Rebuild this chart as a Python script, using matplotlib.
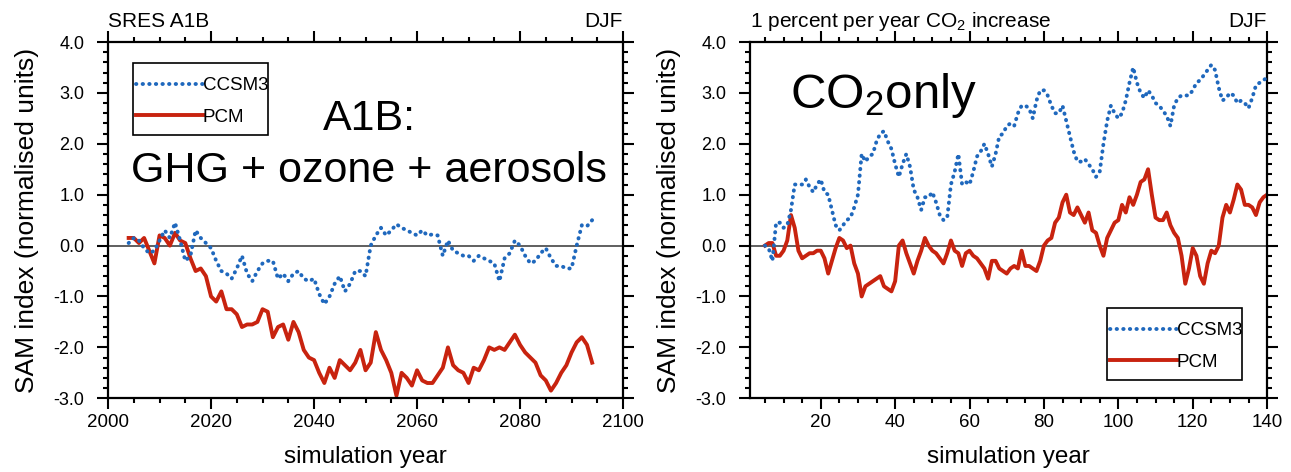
import numpy as np
import matplotlib
matplotlib.use("Agg")
import matplotlib.pyplot as plt
from matplotlib.patches import Rectangle
from matplotlib.ticker import MultipleLocator, FormatStrFormatter

plt.rcParams['font.family'] = ['Liberation Sans', 'DejaVu Sans']
plt.rcParams['mathtext.default'] = 'regular'
plt.rcParams['axes.unicode_minus'] = False

# ---------- data: SRES A1B (left) ----------
a1b_years = np.arange(2004, 2095)
a1b_ccsm3 = [0.05, 0.15, 0.1, -0.05, -0.15, -0.1, 0.1, 0.3, 0.15, 0.45,
             0.1, -0.3, -0.2, 0.3, 0.15, 0.05, -0.05, -0.3, -0.5, -0.55,
             -0.65, -0.45, -0.2, -0.55, -0.7, -0.5, -0.35, -0.3, -0.3, -0.65,
             -0.55, -0.7, -0.55, -0.5, -0.65, -0.7, -0.65, -0.95, -1.15, -1.0,
             -0.75, -0.6, -0.9, -0.75, -0.5, -0.5, -0.6, 0.0, 0.2, 0.35,
             0.2, 0.3, 0.42, 0.35, 0.3, 0.25, 0.2, 0.3, 0.2, 0.22,
             0.2, -0.2, 0.1, -0.1, -0.15, -0.2, -0.2, -0.3, -0.2, -0.25,
             -0.3, -0.35, -0.7, -0.25, -0.15, 0.1, 0.0, -0.2, -0.35, -0.3,
             -0.15, -0.05, -0.25, -0.4, -0.4, -0.45, -0.45, 0.0, 0.4, 0.38,
             0.5]
a1b_pcm = [0.15, 0.15, 0.05, 0.15, -0.1, -0.35, 0.2, 0.15, 0.0, 0.25,
           0.1, 0.05, -0.25, -0.5, -0.45, -0.6, -1.0, -1.1, -0.9, -1.25,
           -1.25, -1.35, -1.6, -1.55, -1.55, -1.5, -1.25, -1.3, -1.8, -1.6,
           -1.55, -1.85, -1.5, -1.7, -2.05, -2.2, -2.25, -2.5, -2.7, -2.4,
           -2.6, -2.25, -2.35, -2.45, -2.3, -2.05, -2.45, -2.3, -1.7, -2.05,
           -2.25, -2.5, -2.95, -2.5, -2.6, -2.75, -2.45, -2.65, -2.7, -2.7,
           -2.55, -2.4, -2.0, -2.35, -2.45, -2.5, -2.7, -2.4, -2.45, -2.25,
           -2.0, -2.05, -2.0, -2.05, -1.9, -1.75, -1.95, -2.1, -2.2, -2.3,
           -2.55, -2.65, -2.85, -2.7, -2.5, -2.35, -2.1, -1.9, -1.8, -1.95,
           -2.3]

# ---------- data: 1% per year CO2 (right) ----------
co2_years = np.arange(5, 141)
co2_ccsm3 = [0.0, -0.05, -0.3, 0.45, 0.45, 0.35, 0.4, 0.7, 1.2, 1.2,
             1.2, 1.3, 1.15, 1.05, 1.2, 1.3, 1.05, 1.0, 0.7, 0.4,
             0.3, 0.4, 0.5, 0.55, 0.75, 1.0, 1.8, 1.65, 1.75, 1.8,
             2.05, 2.2, 2.25, 2.05, 1.9, 1.6, 1.35, 1.6, 1.8, 1.55,
             1.1, 0.95, 0.7, 0.95, 0.95, 1.05, 0.85, 0.6, 0.5, 0.55,
             1.2, 1.45, 1.8, 1.2, 1.25, 1.2, 1.45, 1.75, 1.85, 2.0,
             1.8, 1.55, 1.8, 2.15, 2.2, 2.35, 2.4, 2.35, 2.6, 2.75,
             2.75, 2.7, 2.5, 2.85, 3.05, 3.05, 2.95, 2.75, 2.6, 2.6,
             2.75, 2.45, 2.15, 1.85, 1.65, 1.65, 1.7, 1.6, 1.5, 1.35,
             1.45, 2.0, 2.45, 2.75, 2.6, 2.5, 2.6, 2.85, 3.2, 3.5,
             3.2, 3.0, 2.9, 3.05, 2.95, 2.8, 2.75, 2.65, 2.55, 2.35,
             2.75, 2.9, 2.95, 2.95, 2.95, 3.05, 3.2, 3.25, 3.35, 3.45,
             3.55, 3.45, 3.1, 2.85, 2.9, 3.0, 2.95, 2.8, 2.85, 2.8,
             2.7, 2.9, 3.15, 3.2, 3.25, 3.3]
co2_pcm = [0.0, 0.05, 0.05, -0.2, -0.2, -0.1, 0.1, 0.6, 0.35, -0.1,
           -0.25, -0.2, -0.15, -0.15, -0.1, -0.1, -0.25, -0.55, -0.3, -0.05,
           0.15, 0.1, -0.05, 0.0, -0.35, -0.55, -1.0, -0.8, -0.75, -0.7,
           -0.65, -0.6, -0.8, -0.85, -0.9, -0.7, 0.0, 0.1, -0.15, -0.35,
           -0.55, -0.3, -0.1, 0.15, 0.0, -0.1, -0.15, -0.25, -0.35, -0.15,
           0.1, -0.1, -0.15, -0.4, -0.15, -0.1, -0.2, -0.25, -0.35, -0.45,
           -0.65, -0.3, -0.3, -0.45, -0.5, -0.55, -0.45, -0.4, -0.45, -0.1,
           -0.4, -0.4, -0.45, -0.5, -0.3, 0.0, 0.1, 0.15, 0.45, 0.55,
           0.85, 1.0, 0.65, 0.6, 0.75, 0.6, 0.45, 0.65, 0.3, 0.25,
           0.0, -0.2, 0.15, 0.3, 0.45, 0.5, 0.8, 0.65, 0.95, 0.8,
           1.0, 1.25, 1.3, 1.5, 1.0, 0.55, 0.5, 0.5, 0.65, 0.4,
           0.25, 0.15, -0.2, -0.75, -0.45, -0.05, -0.2, -0.6, -0.75, -0.35,
           -0.1, -0.15, 0.0, 0.55, 0.8, 0.65, 0.9, 1.2, 1.1, 0.8,
           0.8, 0.75, 0.6, 0.85, 0.95, 1.0]

blue = "#1f68bd"
red = "#c8230f"

fig = plt.figure(figsize=(12.91, 4.72), dpi=100)
ax1 = fig.add_axes([0.0837, 0.1562, 0.3989, 0.7548])
ax2 = fig.add_axes([0.5810, 0.1562, 0.4005, 0.7548])


def style_axes(ax, xmajor):
    ax.axhline(0, color="#444444", lw=1.2, zorder=1)
    ax.set_ylim(-3, 4)
    ax.yaxis.set_major_locator(MultipleLocator(1.0))
    ax.yaxis.set_minor_locator(MultipleLocator(0.2))
    ax.yaxis.set_major_formatter(FormatStrFormatter("%.1f"))
    ax.xaxis.set_major_locator(MultipleLocator(xmajor))
    ax.xaxis.set_minor_locator(MultipleLocator(5))
    for s in ax.spines.values():
        s.set_linewidth(1.6)
    ax.tick_params(which="both", direction="out", top=True, right=True, width=1.5)
    ax.tick_params(which="major", length=8)
    ax.tick_params(which="minor", length=3.8)
    ax.tick_params(axis="y", labelsize=13, pad=9)
    ax.tick_params(axis="x", labelsize=13.5, pad=3.5)
    ax.set_ylabel("SAM index (normalised units)", fontsize=19, va="center")
    ax.yaxis.set_label_coords(-0.157, 0.5)
    ax.set_xlabel("simulation year", fontsize=17.5, va="center")
    ax.xaxis.set_label_coords(0.5, -0.165)
    ax.set_title("DJF", loc="right", fontsize=15, pad=10.5)


def draw_series(ax, x, ccsm3, pcm, box):
    ax.plot(x, ccsm3, color=blue, lw=2.8, linestyle=(0, (0.1, 1.6)),
            dash_capstyle="round", label="CCSM3", zorder=3)
    ax.plot(x, pcm, color=red, lw=2.8, label="PCM", zorder=2)
    # legend box: (left, bottom, width, height) in axes fraction
    bx, by, bw, bh = box
    ax.add_patch(Rectangle((bx, by), bw, bh, transform=ax.transAxes,
                           fill=True, facecolor="white", edgecolor="black",
                           lw=1.2, zorder=4))
    leg = ax.legend(loc="upper left", bbox_to_anchor=(bx + 0.006, by + bh - 0.04),
                    borderaxespad=0, borderpad=0, frameon=False,
                    fontsize=13.5, handlelength=3.55, handletextpad=0,
                    labelspacing=0.75)
    leg.set_zorder(5)


# ---------- left panel ----------
style_axes(ax1, 20)
ax1.set_xlim(2000, 2100)
draw_series(ax1, a1b_years, a1b_ccsm3, a1b_pcm, (0.0485, 0.739, 0.262, 0.202))
ax1.set_title("SRES A1B", loc="left", fontsize=15, pad=10.5)
ax1.text(0.507, 0.754, "A1B:", transform=ax1.transAxes, ha="center",
         va="baseline", fontsize=31)
ax1.text(0.507, 0.608, "GHG + ozone + aerosols", transform=ax1.transAxes,
         ha="center", va="baseline", fontsize=31)

# ---------- right panel ----------
style_axes(ax2, 20)
ax2.set_xlim(1, 140)
ax2.set_xticks([20, 40, 60, 80, 100, 120, 140])
draw_series(ax2, co2_years, co2_ccsm3, co2_pcm, (0.6905, 0.0514, 0.261, 0.202))
ax2.set_title(r"1 percent per year CO$_2$ increase", loc="left", fontsize=15, pad=10.5)
ax2.text(0.077, 0.814, r"CO$_2$only", transform=ax2.transAxes, ha="left",
         va="baseline", fontsize=35.5)

fig.savefig("out.png", dpi=100)
